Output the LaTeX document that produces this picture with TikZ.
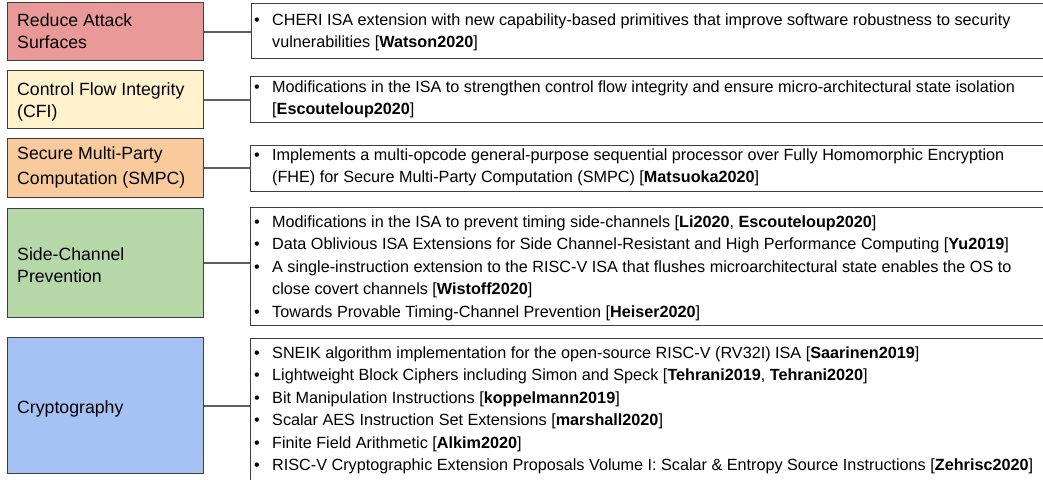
\documentclass[tikz,border=0pt]{standalone}
\usepackage{fontspec}
\setmainfont{Liberation Sans}

\definecolor{boxline}{HTML}{3F3F3F}
\definecolor{linkgray}{HTML}{5F5F5F}
\definecolor{redfill}{HTML}{EA9999}
\definecolor{yellowfill}{HTML}{FFF2CC}
\definecolor{orangefill}{HTML}{F9CB9C}
\definecolor{greenfill}{HTML}{B6D7A8}
\definecolor{bluefill}{HTML}{A4C2F4}

% category label: first baseline on the anchor
\newcommand{\catlines}[2]{\parbox[t]{190pt}{\fontsize{17.7}{#1}\selectfont\raggedright #2}}
% list of references: first baseline on the anchor
\newcommand{\reflines}[2]{\parbox[t]{800pt}{\fontsize{16.2}{#1}\selectfont\raggedright #2}}
\newcommand{\itm}{\makebox[18pt][l]{•}}
\newcommand{\contline}{\hspace*{18pt}}
\newcommand{\refkey}[1]{[\textbf{#1}]}

\begin{document}
\begin{tikzpicture}[x=1pt,y=-1pt,
  catbox/.style={draw=boxline, line width=1.3pt, minimum width=196pt,
    anchor=north west, inner sep=0pt},
  refbox/.style={draw=boxline, line width=1.3pt, minimum width=820pt,
    anchor=north west, inner sep=0pt},
  link/.style={draw=linkgray, line width=2pt},
  textline/.style={anchor=base west, inner sep=0pt},
]
\path[use as bounding box] (0,0) rectangle (1043,479);
\clip (0,0) rectangle (1043,479);

% categories
\node[catbox, fill=redfill,    minimum height=58pt]  (L1) at (7,2)   {};
\node[catbox, fill=yellowfill, minimum height=58pt]  (L2) at (7,70)  {};
\node[catbox, fill=orangefill, minimum height=59pt]  (L3) at (7,138) {};
\node[catbox, fill=greenfill,  minimum height=109pt] (L4) at (7,208) {};
\node[catbox, fill=bluefill,   minimum height=136pt] (L5) at (7,337) {};

\node[textline] (l1) at ([xshift=10pt,yshift=-24.5pt]L1.north west)
  {\catlines{22pt}{Reduce Attack\\Surfaces}};
\node[textline] (l2) at ([xshift=10pt,yshift=-25pt]L2.north west)
  {\catlines{22pt}{Control Flow Integrity\\(CFI)}};
\node[textline] (l3) at ([xshift=10pt,yshift=-21pt]L3.north west)
  {\catlines{25pt}{Secure Multi-Party\\Computation (SMPC)}};
\node[textline] (l4) at ([xshift=10pt,yshift=-52pt]L4.north west)
  {\catlines{22pt}{Side-Channel\\Prevention}};
\node[textline] (l5) at ([xshift=10pt,yshift=-76pt]L5.north west)
  {\catlines{22pt}{Cryptography}};

% reference boxes
\node[refbox, minimum height=55pt]  (R1) at (251,3)   {};
\node[refbox, minimum height=46pt]  (R2) at (250,76)  {};
\node[refbox, minimum height=46pt]  (R3) at (250,145) {};
\node[refbox, minimum height=118pt] (R4) at (250,207) {};
\node[refbox, minimum height=162pt] (R5) at (250,337.5) {};

\node[textline] (r1) at ([xshift=3pt,yshift=-22pt]R1.north west)
  {\reflines{22pt}{\itm CHERI ISA extension with new capability-based primitives that improve software robustness to security\\
  \contline vulnerabilities \refkey{Watson2020}}};
\node[textline] (r2) at ([xshift=4pt,yshift=-16pt]R2.north west)
  {\reflines{22pt}{\itm Modifications in the ISA to strengthen control flow integrity and ensure micro-architectural state isolation\\
  \contline \refkey{Escouteloup2020}}};
\node[textline] (r3) at ([xshift=4pt,yshift=-15pt]R3.north west)
  {\reflines{22pt}{\itm Implements a multi-opcode general-purpose sequential processor over Fully Homomorphic Encryption\\
  \contline (FHE) for Secure Multi-Party Computation (SMPC) \refkey{Matsuoka2020}}};
\node[textline] (r4) at ([xshift=4pt,yshift=-20pt]R4.north west)
  {\reflines{22.5pt}{\itm Modifications in the ISA to prevent timing side-channels [\textbf{Li2020}, \textbf{Escouteloup2020}]\\
  \itm Data Oblivious ISA Extensions for Side Channel-Resistant and High Performance Computing \refkey{Yu2019}\\
  \itm A single-instruction extension to the RISC-V ISA that flushes microarchitectural state enables the OS to\\
  \contline close covert channels \refkey{Wistoff2020}\\
  \itm Towards Provable Timing-Channel Prevention \refkey{Heiser2020}}};
\node[textline] (r5) at ([xshift=4pt,yshift=-20.5pt]R5.north west)
  {\reflines{22.5pt}{\itm SNEIK algorithm implementation for the open-source RISC-V (RV32I) ISA \refkey{Saarinen2019}\\
  \itm Lightweight Block Ciphers including Simon and Speck [\textbf{Tehrani2019}, \textbf{Tehrani2020}]\\
  \itm Bit Manipulation Instructions \refkey{koppelmann2019}\\
  \itm Scalar AES Instruction Set Extensions \refkey{marshall2020}\\
  \itm Finite Field Arithmetic \refkey{Alkim2020}\\
  \itm RISC-V Cryptographic Extension Proposals Volume I: Scalar \& Entropy Source Instructions \refkey{Zehrisc2020}}};

% connectors
\draw[link] (L1.east) -- (L1.east -| R1.west);
\draw[link] (L2.east) -- (L2.east -| R2.west);
\draw[link] (L3.east) -- (L3.east -| R3.west);
\draw[link] (L4.east) -- (L4.east -| R4.west);
\draw[link] (L5.east) -- (L5.east -| R5.west);
\end{tikzpicture}
\end{document}
